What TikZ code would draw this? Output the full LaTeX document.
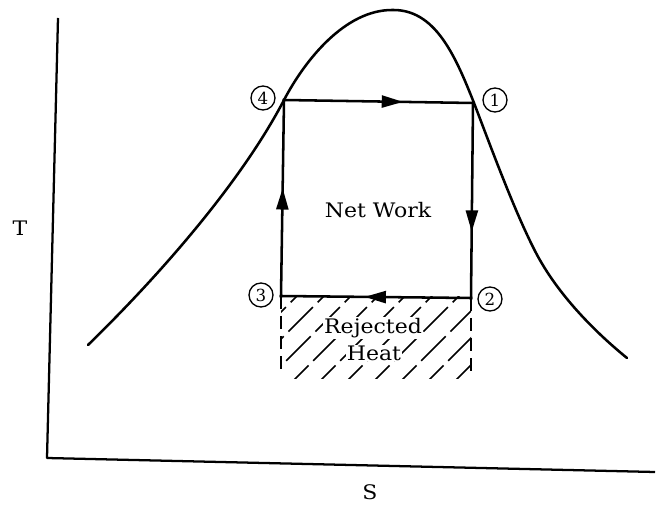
\documentclass[tikz,border=0pt]{standalone}
\usepackage{fontspec}
\newfontfamily\labfont[FakeStretch=1.1]{DejaVu Serif}
\newfontfamily\numfont{DejaVu Serif}
\usetikzlibrary{decorations.markings,arrows.meta}
\begin{document}
\begin{tikzpicture}[x=0.75pt,y=-0.75pt,
  axisline/.style={line width=1.7pt,line join=round},
  domeline/.style={line width=1.9pt,line cap=round},
  cycline/.style={line width=1.9pt,line cap=rect},
  hatchline/.style={line width=1.1pt,dash pattern=on 26pt off 5pt},
  bordline/.style={line width=1.3pt,dash pattern=on 10pt off 5pt},
  numlbl/.style={circle,draw,line width=1pt,minimum size=18pt,inner sep=0pt,font=\numfont\fontsize{12.5}{12.5}\selectfont},
  lbl/.style={font=\labfont\fontsize{15}{17}\selectfont,inner sep=1pt},
  midarrow/.style={postaction={decorate},decoration={markings,mark=at position #1 with {\arrow{Triangle[length=16pt,width=9pt]}}}},
]
\useasboundingbox (0,0) rectangle (659,505);

% axes
\coordinate (ytop) at (58,18);
\coordinate (orig) at (47,458);
\coordinate (xend) at (655,472);
\draw[axisline] (ytop) -- (orig) -- (xend);
\node[lbl] (tl) at (20,228) {T};
\node[lbl] (sl) at (370,492) {S};

% saturation dome
\draw[domeline] (88,345) .. controls (170,265) and (245,175) .. (284,100)
  .. controls (305,60) and (345,10) .. (392,10)
  .. controls (435,9) and (455,55) .. (474,103)
  .. controls (492,150) and (514,210) .. (535,251)
  .. controls (557,294) and (595,332) .. (627,358);

% cycle corners
\coordinate (p4) at (284,100);
\coordinate (p1) at (473,103);
\coordinate (p2) at (471,298);
\coordinate (p3) at (281,296);

% hatched region (rejected heat)
\begin{scope}
  \clip (281,297) rectangle (471,378);
  \foreach \a in {176,203,...,480} {
    \draw[hatchline] (\a,390) -- (\a+100,290);
  }
\end{scope}
\coordinate (hl) at (281,372);
\coordinate (hr) at (471,376);
\draw[bordline] (p3) -- (hl);
\draw[bordline] (p2) -- (hr);
\node[lbl,fill=white] (rej) at (373,328) {Rejected};
\node[lbl,fill=white,inner sep=0.5pt] (heat) at (374,353) {Heat};

% cycle
\draw[cycline,midarrow=0.63] (p4) -- (p1);
\draw[cycline,midarrow=0.66] (p1) -- (p2);
\draw[cycline,midarrow=0.56] (p2) -- (p3);
\draw[cycline,midarrow=0.55] (p3) -- (p4);

\node[lbl] (nw) at (378,210) {Net Work};

% state labels
\node[numlbl] (c4) at (263,98) {4};
\node[numlbl] (c1) at (495,100) {1};
\node[numlbl] (c3) at (261,295) {3};
\node[numlbl] (c2) at (490,299) {2};
\end{tikzpicture}
\end{document}
